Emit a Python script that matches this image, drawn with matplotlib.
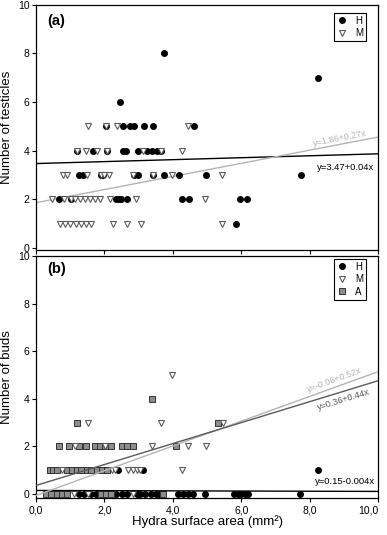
import matplotlib
matplotlib.use("Agg")
import matplotlib.pyplot as plt
from matplotlib.lines import Line2D
import numpy as np

plt.rcParams['font.family'] = ['Liberation Sans', 'DejaVu Sans']

# ---- panel (a): testicles ----
a_h_x = [3.75, 8.24, 2.47,
         2.04, 2.53, 2.75, 2.87, 3.16, 3.41, 4.63,
         1.19, 1.66, 2.07, 2.53, 2.63, 2.97, 3.24, 3.38, 3.53, 3.65,
         1.27, 1.38, 1.90, 1.97, 2.87, 2.97, 3.41, 3.75, 4.18, 4.96, 7.74,
         0.68, 1.01, 2.34, 2.42, 2.48, 2.65, 4.26, 4.47, 5.96, 6.16,
         5.85]
a_h_y = [8, 7, 6,
         5, 5, 5, 5, 5, 5, 5,
         4, 4, 4, 4, 4, 4, 4, 4, 4, 4,
         3, 3, 3, 3, 3, 3, 3, 3, 3, 3, 3,
         2, 2, 2, 2, 2, 2, 2, 2, 2, 2,
         1]
a_m_x = [1.53, 2.04, 2.37, 4.45,
         1.19, 1.45, 1.77, 2.07, 3.12, 3.65, 4.28,
         0.78, 0.92, 1.50, 1.90, 2.00, 2.12, 2.83, 3.41, 3.99, 5.45,
         0.46, 0.83, 1.01, 1.14, 1.29, 1.43, 1.58, 1.73, 1.87, 2.16, 2.92, 4.94,
         0.70, 0.85, 0.99, 1.17, 1.32, 1.46, 1.60, 2.26, 2.65, 3.07, 5.43]
a_m_y = [5, 5, 5, 5,
         4, 4, 4, 4, 4, 4, 4,
         3, 3, 3, 3, 3, 3, 3, 3, 3, 3,
         2, 2, 2, 2, 2, 2, 2, 2, 2, 2, 2, 2,
         1, 1, 1, 1, 1, 1, 1, 1, 1, 1, 1]

# ---- panel (b): buds ----
b_h_x = [8.24, 2.41, 3.14,
         1.25, 1.4, 1.6, 1.75, 2.35, 2.5, 2.65, 2.95, 3.05, 3.2, 3.35, 3.5, 3.6,
         4.15, 4.3, 4.45, 4.6, 4.95, 5.8, 5.9, 6.0, 6.1, 6.2, 7.72]
b_h_y = [1, 1, 1,
         0, 0, 0, 0, 0, 0, 0, 0, 0, 0, 0, 0, 0,
         0, 0, 0, 0, 0, 0, 0, 0, 0, 0, 0]
b_m_x = [3.99, 1.53, 3.65, 5.46,
         1.14, 2.02, 3.40, 4.45, 4.96,
         0.75, 2.21, 2.31, 2.70, 2.83, 2.94, 3.04, 4.26,
         1.12, 1.53, 2.83]
b_m_y = [5, 3, 3, 3,
         2, 2, 2, 2, 2,
         1, 1, 1, 1, 1, 1, 1, 1,
         0, 0, 0]
b_a_x = [3.38, 1.19, 5.33,
         0.68, 0.97, 1.27, 1.46, 1.73, 1.87, 2.02, 2.19, 2.5, 2.65, 2.85, 4.09,
         0.41, 0.51, 0.6, 0.9, 1.04, 1.19, 1.33, 1.48, 1.62, 1.77, 1.92, 2.07,
         0.3, 0.45, 0.6, 0.75, 0.9, 1.9, 2.05, 2.2, 3.72]
b_a_y = [4, 3, 3,
         2, 2, 2, 2, 2, 2, 2, 2, 2, 2, 2, 2,
         1, 1, 1, 1, 1, 1, 1, 1, 1, 1, 1, 1,
         0, 0, 0, 0, 0, 0, 0, 0, 0]

# regression fits (intercept, slope)
a_fit_h = (3.47, 0.04)
a_fit_m = (1.86, 0.27)
b_fit_h = (0.15, -0.004)
b_fit_m = (-0.06, 0.52)
b_fit_a = (0.36, 0.44)

xticks = [0, 2, 4, 6, 8, 10]
xticklabels = ["0,0", "2,0", "4,0", "6,0", "8,0", "10,0"]
yticks = [0, 2, 4, 6, 8, 10]

LIGHT = '#b4b4b4'
DARK = '#5a5a5a'
msz = 4.0

fig = plt.figure(figsize=(3.87, 5.35), dpi=100)
ax1 = fig.add_axes([0.093, 0.533, 0.884, 0.458])
ax2 = fig.add_axes([0.093, 0.069, 0.884, 0.4525])

xx = np.array([0, 10])


def style(ax):
    ax.set_xlim(0, 10)
    ax.set_xticks(xticks)
    ax.set_yticks(yticks)
    ax.tick_params(direction='out', length=3, width=0.8, labelsize=7.5, pad=1.5)
    ax.tick_params(right=False, top=False)
    for s in ax.spines.values():
        s.set_linewidth(0.9)


# panel a
ax1.plot(a_h_x, a_h_y, 'o', ms=msz, mfc='black', mec='black', zorder=3)
ax1.plot(a_m_x, a_m_y, 'v', ms=msz + 0.4, mfc='white', mec=DARK, mew=0.8, zorder=4)
ax1.plot(xx, a_fit_h[0] + a_fit_h[1] * xx, color='black', lw=1.0, zorder=2)
ax1.plot(xx, a_fit_m[0] + a_fit_m[1] * xx, color=LIGHT, lw=1.0, zorder=2)
style(ax1)
ax1.set_ylim(-0.08, 10)
ax1.set_xticklabels([])
ax1.set_ylabel("Number of testicles", fontsize=9.5)
ax1.yaxis.set_label_coords(-0.068, 0.5)
ax1.text(0.032, 0.962, "(a)", transform=ax1.transAxes, fontsize=10.5,
         fontweight='bold', va='top', ha='left')
ax1.text(8.9, 4.33, "y=1.86+0.27x", color=LIGHT, fontsize=6.5,
         rotation=10.9, rotation_mode='anchor', ha='center', va='bottom')
ax1.text(9.06, 3.29, "y=3.47+0.04x", color='black', fontsize=6.8,
         ha='center', va='center')
leg_a = [Line2D([], [], ls='none', marker='o', ms=msz, mfc='black', mec='black'),
         Line2D([], [], ls='none', marker='v', ms=msz + 0.4, mfc='white', mec=DARK, mew=0.8)]
l1 = ax1.legend(leg_a, ["H", "M"], loc='upper right', bbox_to_anchor=(0.965, 0.967),
                fontsize=7, frameon=True, fancybox=False, framealpha=1,
                borderpad=0.3, labelspacing=0.25, handlelength=1.0,
                handletextpad=0.9, borderaxespad=0)
l1.get_frame().set_edgecolor('black')
l1.get_frame().set_linewidth(0.8)

# panel b
ax2.plot(b_h_x, b_h_y, 'o', ms=msz, mfc='black', mec='black', zorder=3)
ax2.plot(b_a_x, b_a_y, 's', ms=msz - 0.3, mfc='#8c8c8c', mec='#333333', mew=0.7, zorder=4)
ax2.plot(b_m_x, b_m_y, 'v', ms=msz + 0.4, mfc='white', mec=DARK, mew=0.8, zorder=5)
ax2.plot(xx, b_fit_h[0] + b_fit_h[1] * xx, color='black', lw=1.0, zorder=6)
ax2.plot(xx, b_fit_m[0] + b_fit_m[1] * xx, color=LIGHT, lw=1.0, zorder=6)
ax2.plot(xx, b_fit_a[0] + b_fit_a[1] * xx, color=DARK, lw=1.0, zorder=6)
style(ax2)
ax2.tick_params(axis='x', pad=2)
ax2.set_ylim(-0.17, 10)
ax2.set_xticklabels(xticklabels)
lbls = ax2.get_xticklabels()
lbls[-1].set_horizontalalignment('right')
ax2.set_ylabel("Number of buds", fontsize=9.5)
ax2.yaxis.set_label_coords(-0.068, 0.5)
ax2.set_xlabel("Hydra surface area (mm²)", fontsize=9.5)
ax2.xaxis.set_label_coords(0.5, -0.072)
ax2.text(0.032, 0.975, "(b)", transform=ax2.transAxes, fontsize=10.5,
         fontweight='bold', va='top', ha='left')
ax2.text(8.77, 4.62, "y=-0.06+0.52x", color=LIGHT, fontsize=6.5,
         rotation=19.9, rotation_mode='anchor', ha='center', va='bottom')
ax2.text(8.95, 4.15, "y=0.36+0.44x", color=DARK, fontsize=6.5,
         rotation=17.0, rotation_mode='anchor', ha='center', va='top')
ax2.text(9.03, 0.52, "y=0.15-0.004x", color='black', fontsize=6.8,
         ha='center', va='center')
leg_b = [Line2D([], [], ls='none', marker='o', ms=msz, mfc='black', mec='black'),
         Line2D([], [], ls='none', marker='v', ms=msz + 0.4, mfc='white', mec=DARK, mew=0.8),
         Line2D([], [], ls='none', marker='s', ms=msz - 0.3, mfc='#8c8c8c', mec='#333333', mew=0.7)]
l2 = ax2.legend(leg_b, ["H", "M", "A"], loc='upper right', bbox_to_anchor=(0.965, 0.988),
                fontsize=7, frameon=True, fancybox=False, framealpha=1,
                borderpad=0.3, labelspacing=0.25, handlelength=1.0,
                handletextpad=0.9, borderaxespad=0)
l2.get_frame().set_edgecolor('black')
l2.get_frame().set_linewidth(0.8)

fig.savefig("out.png", dpi=100)
